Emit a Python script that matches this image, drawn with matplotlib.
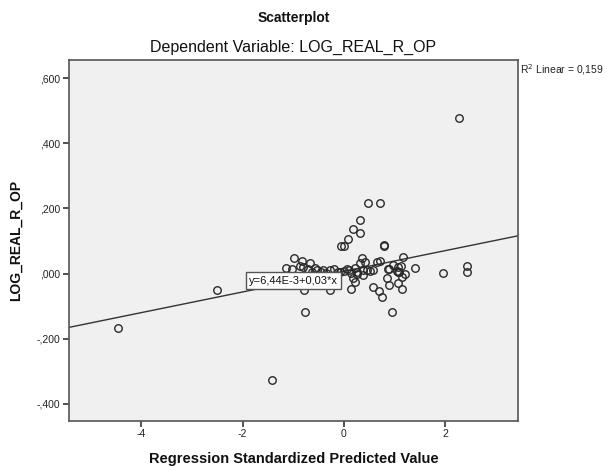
import matplotlib
matplotlib.use("Agg")
import matplotlib.pyplot as plt
import numpy as np

plt.rcParams['font.family'] = ['Liberation Sans', 'DejaVu Sans']

# Regression standardized predicted value (x) and LOG_REAL_R_OP (y)
pred_x = [-4.467, -2.499, -1.418, 2.276, 1.954, 2.434, 2.434, -0.766, 0.946,
          0.478, 0.721, 0.314, 0.176, 0.314, 0.089, -0.061, 0.000, 0.794, 0.800,
          -0.978, -0.832, -0.668, -1.148, -1.030, -0.865, -0.800, -0.700, -0.569,
          -0.523, -0.405, -0.273, -0.188, -0.786, -0.273, -0.620, -0.450, -0.350,
          -0.120, 0.000, -0.080,
          0.057, 0.109, 0.221, 0.255, 0.353, 0.419, 0.385, 0.452, 0.518, 0.583,
          0.649, 0.715, 0.320, 0.188, 0.136, 0.215, 0.583, 0.701, 0.748, 0.255,
          0.385, 0.150,
          0.879, 0.978, 1.077, 1.077, 1.175, 1.144, 1.209, 1.407, 0.847, 0.899,
          1.077, 1.144, 1.090, 1.057, 1.130, 0.893]
log_real_r_op = [-0.167, -0.049, -0.327, 0.477, 0.002, 0.024, 0.006, -0.117, -0.117,
                 0.216, 0.216, 0.166, 0.138, 0.126, 0.105, 0.085, 0.085, 0.087, 0.084,
                 0.047, 0.040, 0.034, 0.016, 0.013, 0.023, 0.019, 0.013, 0.018,
                 0.011, 0.011, 0.011, 0.013, -0.050, -0.050, 0.006, 0.004, 0.003,
                 0.006, 0.008, 0.005,
                 0.013, 0.011, 0.016, 0.006, 0.047, 0.037, 0.011, 0.011, 0.009, 0.011,
                 0.037, 0.040, 0.032, -0.014, -0.048, -0.025, -0.042, -0.052, -0.073, 0.000,
                 -0.005, 0.003,
                 0.013, 0.026, 0.021, 0.006, 0.050, -0.010, -0.002, 0.016, -0.015, -0.035,
                 -0.030, -0.048, 0.005, 0.008, 0.023, 0.015]

fit_intercept = 0.0070
fit_slope = 0.0317
fit_label = "y=6,44E-3+0,03*x"
r2_label = "R$^2$ Linear = 0,159"

x_ticks = [-4, -2, 0, 2]
x_ticklabels = ["-4", "-2", "0", "2"]
y_ticks = [-0.4, -0.2, 0.0, 0.2, 0.4, 0.6]
y_ticklabels = ["-,400", "-,200", ",000", ",200", ",400", ",600"]

fig = plt.figure(figsize=(6.11, 4.68), dpi=100)
ax = fig.add_axes([0.1124, 0.1004, 0.7359, 0.7720])
ax.set_facecolor('#F0F0F0')
xlim = (-5.435, 3.447)
ylim = (-0.4526, 0.6567)
ax.set_xlim(*xlim)
ax.set_ylim(*ylim)

for s in ax.spines.values():
    s.set_color('#555555')
    s.set_linewidth(1.2)

ax.plot(pred_x, log_real_r_op, linestyle='none', marker='o', markersize=5.4,
        markerfacecolor='none', markeredgecolor='#2a2a2a', markeredgewidth=1.0, zorder=3)

lx = np.array(xlim)
ax.plot(lx, fit_intercept + fit_slope * lx, color='#333333', linewidth=1.0, zorder=2)

ax.text(-0.996, -0.0218, fit_label, ha='center', va='center', fontsize=8, color='#111111',
        zorder=5,
        bbox=dict(boxstyle='square,pad=0.3', facecolor='white', edgecolor='#555555', linewidth=1.0))

ax.set_xticks(x_ticks)
ax.set_xticklabels(x_ticklabels)
ax.set_yticks(y_ticks)
ax.set_yticklabels(y_ticklabels)
ax.tick_params(axis='both', direction='out', length=4.3, width=1.2, color='#333333',
               labelsize=7.5, labelcolor='#222222', pad=1.5)

ax.set_xlabel("Regression Standardized Predicted Value", fontsize=10.5, fontweight='bold',
              color='#111111', labelpad=9)
ax.set_ylabel("LOG_REAL_R_OP", fontsize=10, fontweight='bold', color='#111111', labelpad=10)

fig.text(0.4804, 1 - 18 / 468, "Scatterplot", ha='center', va='center', fontsize=10,
         fontweight='bold', color='#111111')
fig.text(0.4804, 1 - 47 / 468, "Dependent Variable: LOG_REAL_R_OP", ha='center', va='center',
         fontsize=11.5, color='#111111')
fig.text(519.5 / 611, 1 - 70 / 468, r2_label, ha='left', va='center', fontsize=7.5,
         color='#222222')

fig.savefig("out.png", dpi=100)
